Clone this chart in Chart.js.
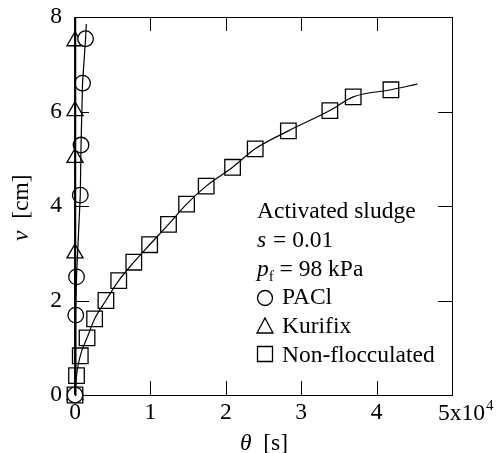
<html>
<head>
<script src="https://cdn.jsdelivr.net/npm/chart.js@4.4.0/dist/chart.umd.min.js"></script>
<title>v-theta</title>
</head>
<body style="margin:0;background:#fff">
<div style="position:absolute;left:0;top:0;width:496px;height:453px">
  <canvas id="myChart"></canvas>
</div>
<script>
// theta in units of 10^4 s, v in cm
const pacX = [0, 0.01, 0.02, 0.07, 0.08, 0.10, 0.14];
const pacY = [0, 1.69, 2.5, 4.23, 5.29, 6.6, 7.54];
const kurX = [0, 0, 0, 0, 0];
const kurY = [0, 3.0, 5.02, 6.01, 7.49];
const nonX = [0, 0.02, 0.07, 0.16, 0.26, 0.41, 0.58, 0.78, 0.99, 1.24, 1.48, 1.74, 2.09, 2.39, 2.83, 3.38, 3.69, 4.19];
const nonY = [0, 0.41, 0.83, 1.21, 1.61, 2.0, 2.42, 2.81, 3.18, 3.61, 4.04, 4.42, 4.82, 5.21, 5.59, 6.02, 6.31, 6.46];
// where each drawn line ends past its last marker
const pacEnd = [0.15, 7.85];
const kurEnd = [0.01, 8.0];
const nonEnd = [4.54, 6.58];
const xTicks = [0, 1, 2, 3, 4, 5];
const yTicks = [0, 2, 4, 6, 8];

const FONT = '"Liberation Serif", "Times New Roman", serif';
const FS = 23.5;

function pts(xs, ys) {
  return xs.map((v, i) => ({x: v, y: ys[i]}));
}

// frame and inward ticks on all four sides, plus the texts
const frame = {
  id: 'frame',
  beforeDatasetsDraw(chart) {
    const {ctx, chartArea: a, scales: {x, y}} = chart;
    ctx.save();
    ctx.strokeStyle = '#000';
    ctx.lineWidth = 1;
    ctx.strokeRect(Math.round(a.left) + 0.5, Math.round(a.top) + 0.5,
      Math.round(a.right - a.left), Math.round(a.bottom - a.top));
    ctx.beginPath();
    const L = 14;
    xTicks.forEach(t => {
      const px = Math.round(x.getPixelForValue(t)) + 0.5;
      ctx.moveTo(px, a.bottom); ctx.lineTo(px, a.bottom - L);
      ctx.moveTo(px, a.top); ctx.lineTo(px, a.top + L);
    });
    yTicks.forEach(t => {
      const py = Math.round(y.getPixelForValue(t)) + 0.5;
      ctx.moveTo(a.left, py); ctx.lineTo(a.left + L, py);
      ctx.moveTo(a.right, py); ctx.lineTo(a.right - L, py);
    });
    ctx.stroke();
    ctx.restore();
  },
  afterDraw(chart) {
    const {ctx, scales: {x}} = chart;
    ctx.save();
    ctx.fillStyle = '#000';
    ctx.textBaseline = 'alphabetic';
    const norm = FS + 'px ' + FONT, ital = 'italic ' + FS + 'px ' + FONT;

    // last x label: 5x10^4
    const p5 = x.getPixelForValue(5);
    ctx.font = norm;
    let sx = p5 - 14;
    ctx.fillText('5x10', sx, 420);
    sx += ctx.measureText('5x10').width;
    ctx.font = '15px ' + FONT;
    ctx.fillText('4', sx + 1, 410);

    // x title
    ctx.font = ital;
    let tx = 240;
    ctx.fillText('\u03b8', tx, 450);
    tx += ctx.measureText('\u03b8').width;
    ctx.font = norm;
    ctx.fillText('  [s]', tx, 450);

    // y title rotated
    ctx.save();
    ctx.translate(28, 241);
    ctx.rotate(-Math.PI / 2);
    ctx.font = ital;
    ctx.fillText('v', 0, 0);
    const ty = ctx.measureText('v').width;
    ctx.font = norm;
    ctx.fillText('  [cm]', ty, 0);
    ctx.restore();

    // legend text
    const lx = 257;
    ctx.font = norm;
    ctx.fillText('Activated sludge', lx, 218);
    ctx.font = ital;
    ctx.fillText('s', lx, 247);
    ctx.font = norm;
    ctx.fillText(' = 0.01', lx + ctx.measureText('s').width + 1, 247);
    ctx.font = ital;
    ctx.fillText('p', lx, 276);
    let px = lx + ctx.measureText('p').width;
    ctx.font = '15px ' + FONT;
    ctx.fillText('f', px, 281);
    px += ctx.measureText('f').width;
    ctx.font = norm;
    ctx.fillText(' = 98 kPa', px, 276);

    const labels = ['PACl', 'Kurifix', 'Non-flocculated'];
    const bases = [304, 333, 362];
    ctx.lineWidth = 1.3;
    ctx.strokeStyle = '#000';
    bases.forEach((b, i) => {
      const cx = 265;
      ctx.beginPath();
      if (i === 0) ctx.arc(cx, b - 6, 7.5, 0, Math.PI * 2);
      else if (i === 1) {
        ctx.moveTo(cx, b - 15); ctx.lineTo(cx + 8, b); ctx.lineTo(cx - 8, b); ctx.closePath();
      } else ctx.rect(cx - 7.5, b - 15.5, 15, 15);
      ctx.stroke();
      ctx.fillText(labels[i], 282, b);
    });
    ctx.restore();
  }
};

const ctx = document.getElementById('myChart');
new Chart(ctx, {
  type: 'scatter',
  data: {
    datasets: [
      {label: 'PACl line', data: pts(pacX.concat(pacEnd[0]), pacY.concat(pacEnd[1])), showLine: true, pointRadius: 0,
        borderColor: '#000', borderWidth: 1.2},
      {label: 'Kurifix line', data: pts(kurX.concat(kurEnd[0]), kurY.concat(kurEnd[1])), showLine: true, pointRadius: 0,
        borderColor: '#000', borderWidth: 2.2},
      {label: 'Non line', data: pts(nonX.concat(nonEnd[0]), nonY.concat(nonEnd[1])), showLine: true, pointRadius: 0,
        borderColor: '#000', borderWidth: 1.2, cubicInterpolationMode: 'monotone'},
      {label: 'PACl', data: pts(pacX, pacY), pointStyle: 'circle', pointRadius: 7.8,
        backgroundColor: '#fff', borderColor: '#000', borderWidth: 1.3},
      {label: 'Non-flocculated', data: pts(nonX, nonY), pointStyle: 'rect', pointRadius: 11,
        backgroundColor: '#fff', borderColor: '#000', borderWidth: 1.3},
      {label: 'Kurifix', data: pts(kurX, kurY), pointStyle: 'triangle', pointRadius: 9.3,
        backgroundColor: '#fff', borderColor: '#000', borderWidth: 1.3}
    ]
  },
  options: {
    responsive: true,
    maintainAspectRatio: false,
    animation: false,
    clip: false,
    layout: {padding: {top: 17, right: 44, left: 0, bottom: 0}},
    plugins: {legend: {display: false}, tooltip: {enabled: false}},
    scales: {
      x: {
        type: 'linear', min: 0, max: 5,
        afterFit: s => { s.height = 58; s.paddingLeft = 0; s.paddingRight = 0; },
        afterBuildTicks: s => { s.ticks = xTicks.map(v => ({value: v})); },
        grid: {display: false, drawTicks: false},
        border: {display: false},
        ticks: {color: '#000', padding: 4, font: {family: FONT, size: FS},
          callback: v => v === 5 ? '' : String(v)}
      },
      y: {
        type: 'linear', min: 0, max: 8,
        afterFit: s => { s.width = 75; s.paddingTop = 0; s.paddingBottom = 0; },
        afterBuildTicks: s => { s.ticks = yTicks.map(v => ({value: v})); },
        grid: {display: false, drawTicks: false},
        border: {display: false},
        ticks: {color: '#000', padding: 13, font: {family: FONT, size: FS}}
      }
    }
  },
  plugins: [frame]
});
</script>
</body>
</html>
